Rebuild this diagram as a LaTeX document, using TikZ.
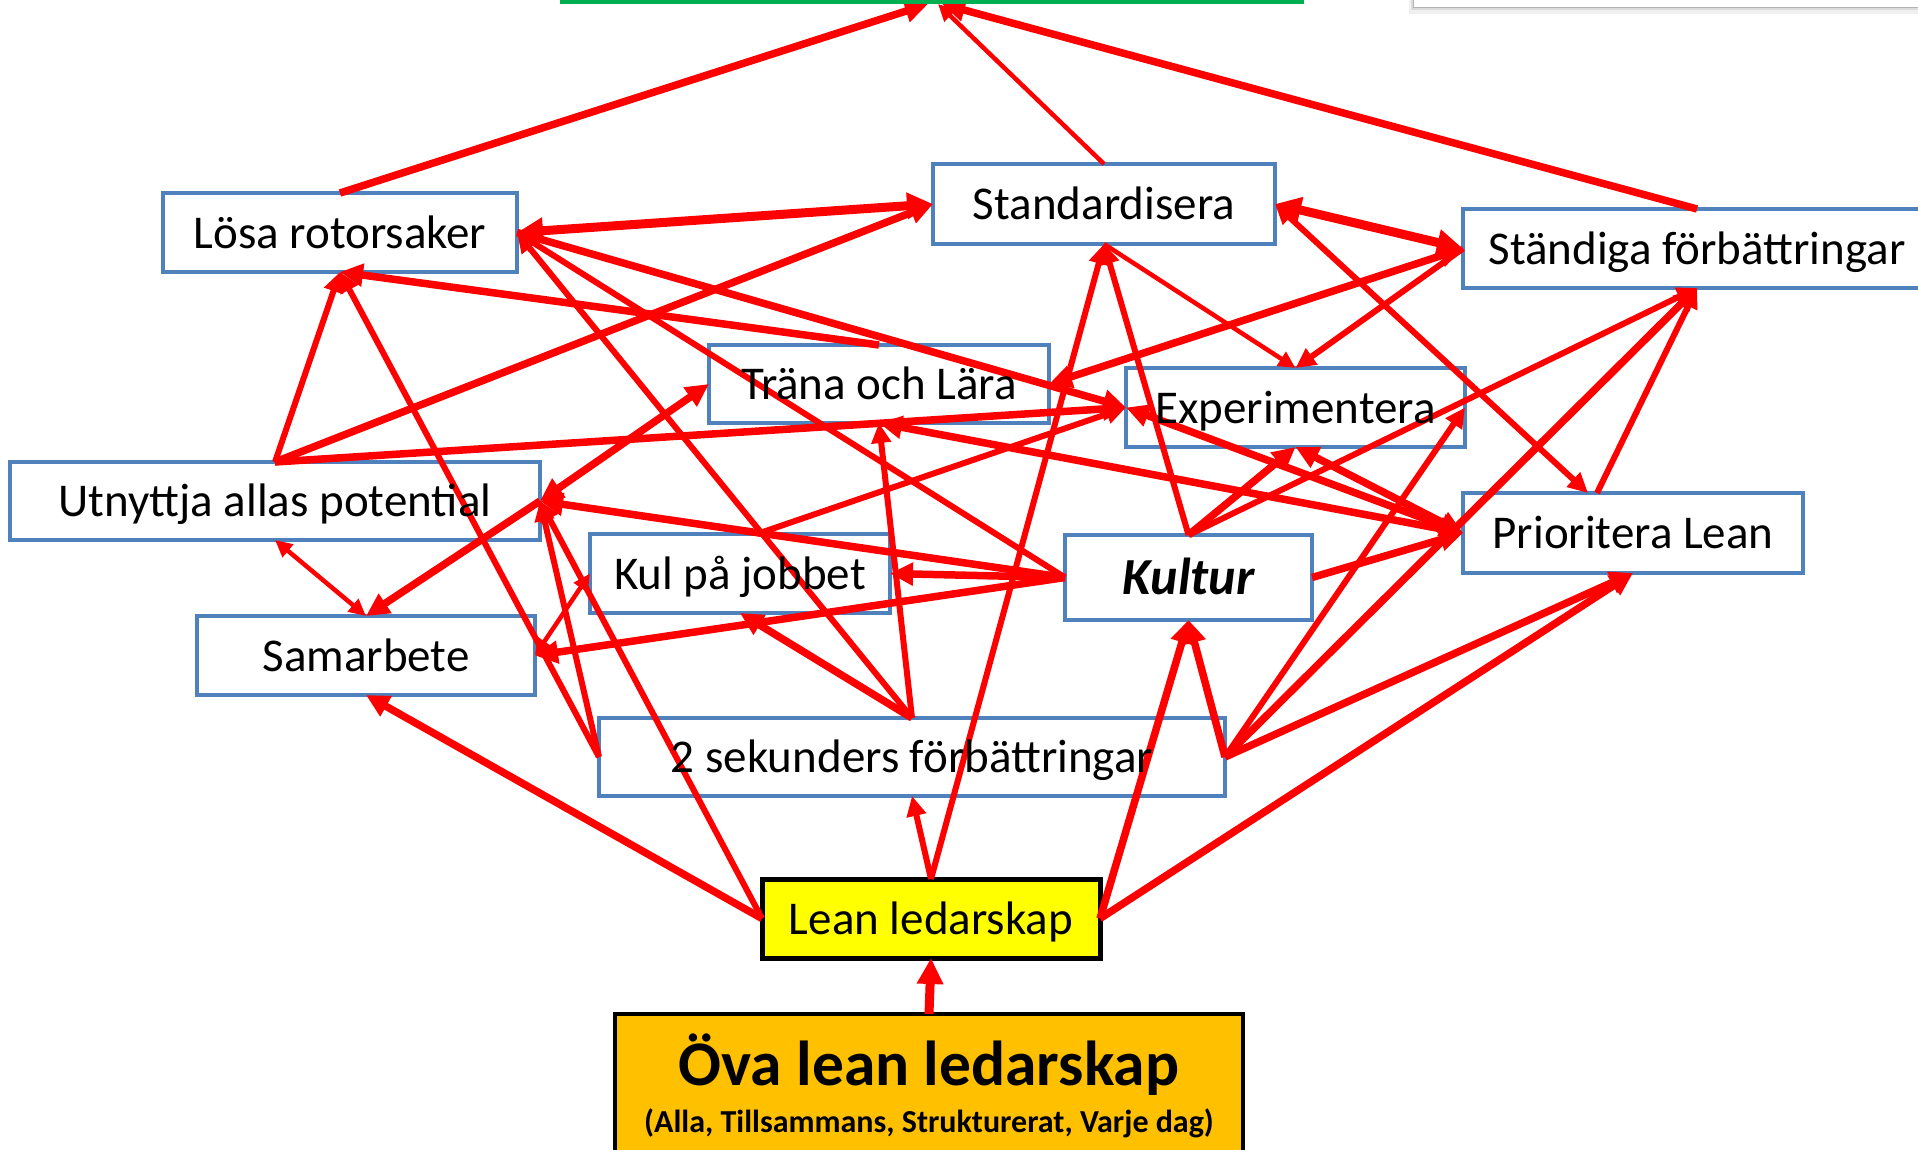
\documentclass[tikz,border=0pt]{standalone}
\usepackage{fontspec}
\setmainfont{Carlito}
\usetikzlibrary{arrows.meta}
\pgfdeclarelayer{bg}
\pgfdeclarelayer{edges}
\pgfsetlayers{bg,edges,main}
\definecolor{lred}{HTML}{FF0000}
\definecolor{lblue}{HTML}{4F81BD}
\definecolor{lyellow}{HTML}{FFFF00}
\definecolor{lorange}{HTML}{FFC000}
\definecolor{lgreen}{HTML}{00B050}
\tikzset{
  lbl/.style={inner sep=0pt, outer sep=0pt, align=center,
    font=\fontsize{47}{56}\selectfont, text height=35pt, text depth=4pt},
  kulturlbl/.style={lbl, font=\bfseries\itshape\fontsize{52}{60}\selectfont,
    text height=38pt, text depth=4pt},
  bluebox/.style={draw=lblue, line width=4pt, fill=white},
  leanbox/.style={draw=black, line width=5pt, fill=lyellow},
  ovabox/.style={draw=black, line width=4pt, fill=lorange},
  l1/.style={draw=lred, line width=4.5pt, >={Triangle[length=17pt,width=16pt]}},
  l2/.style={draw=lred, line width=6pt, >={Triangle[length=20pt,width=19pt]}},
  l3/.style={draw=lred, line width=7.5pt, >={Triangle[length=23pt,width=22pt]}},
  l4/.style={draw=lred, line width=9pt, >={Triangle[length=26pt,width=25pt]}},
}
\begin{document}
\begin{tikzpicture}[x=1pt,y=-1pt]
\useasboundingbox (0,0) rectangle (1918,1149);
\clip (0,0) rectangle (1918,1149);

% top-right card (partly visible)
\fill[black!6] (1409,-10) rectangle (1925,14);
\fill[black!14] (1411,-10) rectangle (1925,10);
\filldraw[fill=white, draw=black!30, line width=1pt] (1413,-10) rectangle (1925,7);

% goal bar (only its bottom edge is visible)
\node[fill=lgreen, inner sep=0pt, outer sep=0pt, minimum width=744pt, minimum height=14pt] (goal) at (932,-3) {};

% nodes
\node[lbl, minimum width=354pt, minimum height=79pt] (lsr) at (340,232.5) {Lösa rotorsaker};
\node[lbl, minimum width=342pt, minimum height=80pt] (std) at (1104,204) {Standardisera};
\node[lbl, minimum width=468pt, minimum height=79pt] (stf) at (1697,248.5) {Ständiga förbättringar};
\node[lbl, minimum width=340pt, minimum height=78pt] (tra) at (879,384) {Träna och Lära};
\node[lbl, minimum width=339pt, minimum height=79pt] (exp) at (1295.5,407.5) {Experimentera};
\node[lbl, minimum width=530pt, minimum height=78pt] (utn) at (275,501) {Utnyttja allas potential};
\node[lbl, minimum width=300pt, minimum height=79pt] (kul) at (740,573.5) {Kul på jobbet};
\node[kulturlbl, minimum width=247pt, minimum height=85pt] (kultur) at (1188.5,577.5) {Kultur};
\node[lbl, minimum width=340pt, minimum height=80pt] (prio) at (1633,533) {Prioritera Lean};
\node[lbl, minimum width=338pt, minimum height=79pt] (sam) at (366,655.5) {Samarbete};
\node[lbl, minimum width=626pt, minimum height=78pt] (sek) at (912,757) {2 sekunders förbättringar};
\node[lbl, minimum width=338pt, minimum height=79pt] (lean) at (931,918.5) {Lean ledarskap};
\node[inner sep=0pt, outer sep=0pt, minimum width=628pt, minimum height=156pt] (ova) at (929,1092) {};
\node[anchor=base, inner sep=0pt, font=\bfseries\fontsize{63.5}{70}\selectfont] (ovatitle) at (929,1085) {Öva lean ledarskap};
\node[anchor=base, inner sep=0pt, font=\bfseries\fontsize{32}{36}\selectfont] (ovasub) at (929,1132) {(Alla, Tillsammans, Strukturerat, Varje dag)};

% box backgrounds
\begin{pgfonlayer}{bg}
\foreach \n in {lsr,std,stf,tra,exp,utn,kul,kultur,prio,sam,sek}
  \draw[bluebox] (\n.north west) rectangle (\n.south east);
\draw[leanbox] (lean.north west) rectangle (lean.south east);
\draw[ovabox] (ova.north west) rectangle (ova.south east);
\end{pgfonlayer}

% connectors
\begin{pgfonlayer}{edges}
\draw[l3,->] (lsr.north) -- ([xshift=-4pt]goal.south);
\draw[l1,->] (std.north) -- ([xshift=6pt]goal.south);
\draw[l3,->] (stf.north) -- ([xshift=10pt]goal.south);
\draw[l4,<->] (lsr.east) -- (std.west);
\draw[l2,->] (utn.north) -- (lsr.south);
\draw[l3,->] (utn.north) -- (std.west);
\draw[l3,->] (utn.north) -- (exp.west);
\draw[l3,->] (tra.north) -- (lsr.south);
\draw[l2,->] (sek.west) -- (lsr.south);
\draw[l3,->] (lsr.east) -- (exp.west);
\draw[l2,->] (kultur.west) -- (lsr.east);
\draw[l2,->] (sek.north) -- (lsr.east);
\draw[l1,->] (std.south) -- (exp.north);
\draw[l2,->] (stf.west) -- (exp.north);
\draw[l3,<->] (stf.west) -- (tra.east);
\draw[l4,<->] (std.east) -- (stf.west);
\draw[l2,<->] (std.east) -- ([xshift=-45pt]prio.north);
\draw[l2,->] ([xshift=-36pt]prio.north) -- (stf.south);
\draw[l2,->] (kultur.north) -- (stf.south);
\draw[l3,->] (sek.east) -- (stf.south);
\draw[l2,->] (sek.east) -- (exp.east);
\draw[l2,->] (kultur.north) -- (std.south);
\draw[l2,->] (lean.north) -- (std.south);
\draw[l3,->] (kultur.north) -- (exp.south);
\draw[l3,<->] (prio.west) -- (exp.south);
\draw[l3,<->] (prio.west) -- (exp.west);
\draw[l3,<->] (tra.south) -- (prio.west);
\draw[l3,->] (kultur.east) -- (prio.west);
\draw[l3,->] (sek.east) -- (prio.south);
\draw[l3,->] (lean.east) -- (prio.south);
\draw[l3,->] (lean.east) -- (kultur.south);
\draw[l3,->] (sek.east) -- (kultur.south);
\draw[l3,->] (kultur.west) -- (kul.east);
\draw[l3,->] (kultur.west) -- (utn.east);
\draw[l3,->] (kultur.west) -- (sam.east);
\draw[l2,->] ([xshift=17pt]kul.north) -- (exp.west);
\draw[l3,->] (sek.north) -- (kul.south);
\draw[l2,->] (sek.north) -- (tra.south);
\draw[l2,->] (lean.north) -- (sek.south);
\draw[l3,<->] (tra.west) -- (utn.east);
\draw[l3,->] (utn.east) -- (sam.north);
\draw[l1,<->] (utn.south) -- (sam.north);
\draw[l1,<->] (sam.east) -- (kul.west);
\draw[l3,->] (lean.west) -- (sam.south);
\draw[l2,->] (lean.west) -- (utn.east);
\draw[l2,->] (sek.west) -- (utn.east);
\draw[l4,->] (ova.north) -- (lean.south);
\end{pgfonlayer}
\end{tikzpicture}
\end{document}
